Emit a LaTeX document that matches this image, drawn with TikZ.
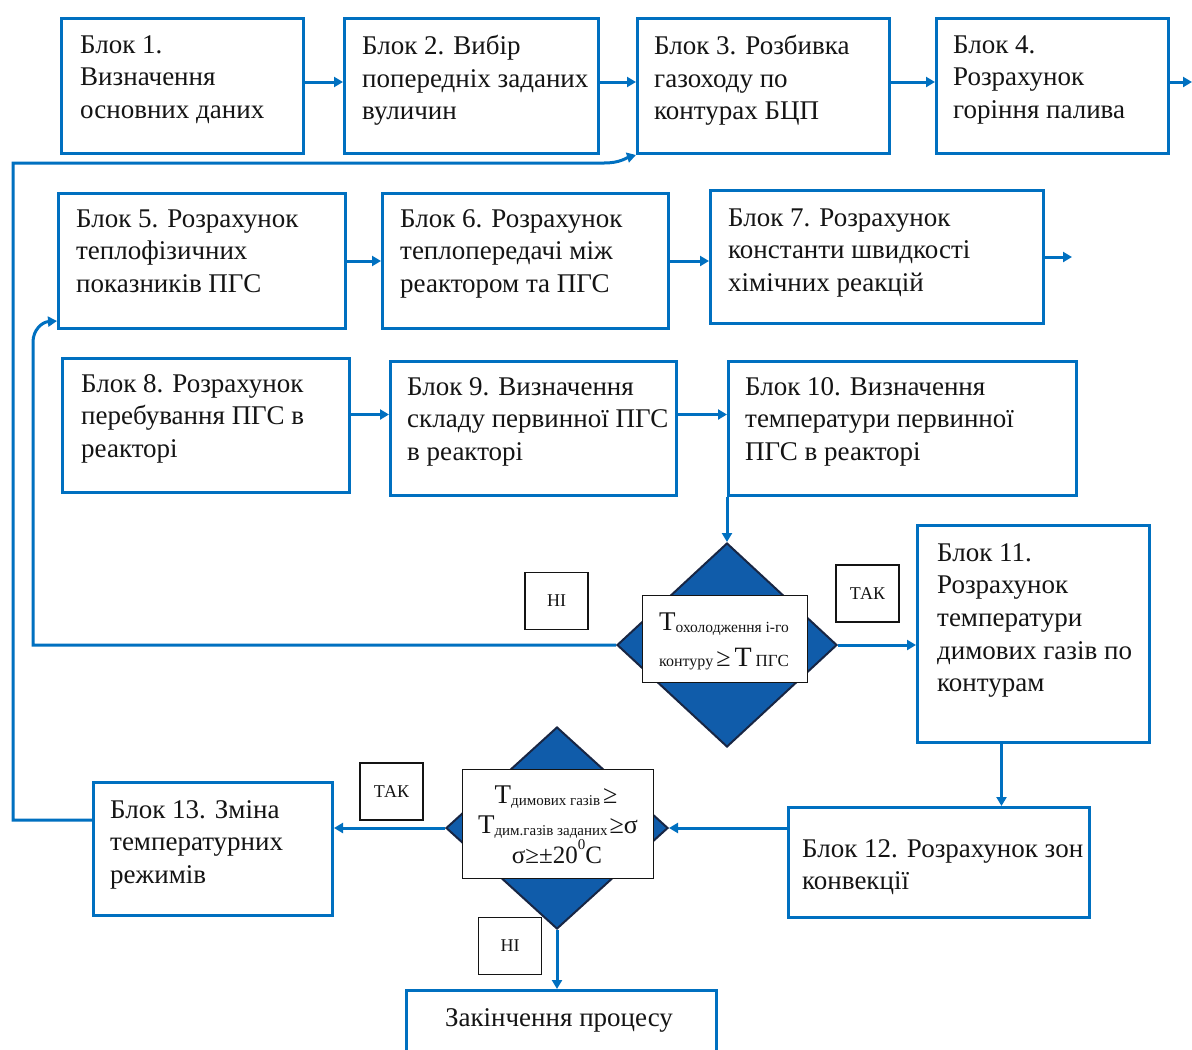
\documentclass[tikz,border=0pt]{standalone}
\usepackage{fontspec}
\setmainfont{Liberation Serif}
\usetikzlibrary{arrows.meta,shapes.geometric}
\definecolor{lblue}{RGB}{0,112,192}
\definecolor{dfill}{RGB}{16,92,170}
\definecolor{dnavy}{RGB}{24,38,68}
\definecolor{ink}{RGB}{20,20,20}
\newcommand\fs[1]{\fontsize{#1}{#1}\selectfont}
\newcommand\bfont{\fontsize{27}{32.6}\selectfont}
\tikzset{
  blk/.style={draw=lblue, line width=3pt, inner sep=0pt, anchor=north west},
  txt/.style={font=\bfont, text=ink, align=left, anchor=north west,
              inner sep=0pt, yshift=17.8pt},
  conn/.style={draw=lblue, line width=3pt, -{Triangle[length=9pt,width=10pt]}},
  dia/.style={diamond, draw=dnavy, fill=dfill, line width=2pt, inner sep=0pt},
  wbox/.style={draw=ink, fill=white, line width=1.3pt, anchor=north west, inner sep=0pt},
  lbl/.style={draw=ink, line width=1.3pt, text=ink, font=\fontsize{18}{18}\selectfont, inner sep=0pt,
              minimum width=63pt, minimum height=57pt},
  dt/.style={anchor=base, inner sep=0pt, text=ink}
}
\newcommand\mkblk[5]{\node[blk, minimum width={(#4)-(#2)}, minimum height={(#5)-(#3)}] (#1) at (#2,#3) {};}
\begin{document}
\begin{tikzpicture}[x=1pt,y=-1pt]
\useasboundingbox (0,0) rectangle (1192,1050);
\clip (0,0) rectangle (1192,1050);
\fill[white] (0,0) rectangle (1192,1050);

% row 1
\mkblk{b1}{60}{17}{302}{152}
\mkblk{b2}{343}{17}{597}{152}
\mkblk{b3}{636}{17}{888}{152}
\mkblk{b4}{935}{17}{1167}{152}
\node[txt] (t1) at (80,53) {Блок 1.\\Визначення\\основних даних};
\node[txt] (t2) at (362,53) {Блок 2. Вибір\\попередніх заданих\\вуличин};
\node[txt] (t3) at (654,53) {Блок 3. Розбивка\\газоходу по\\контурах БЦП};
\node[txt] (t4) at (953,53) {Блок 4.\\Розрахунок\\горіння палива};

% row 2
\mkblk{b5}{57}{192}{344}{327}
\mkblk{b6}{381}{192}{667}{327}
\mkblk{b7}{709}{189}{1042}{322}
\node[txt] (t5) at (76,227) {Блок 5. Розрахунок\\теплофізичних\\показників ПГС};
\node[txt] (t6) at (400,227) {Блок 6. Розрахунок\\теплопередачі між\\реактором та ПГС};
\node[txt] (t7) at (728,226) {Блок 7. Розрахунок\\константи швидкості\\хімічних реакцій};

% row 3
\mkblk{b8}{61}{357}{348}{491}
\mkblk{b9}{389}{360}{675}{494}
\mkblk{b10}{727}{360}{1075}{494}
\node[txt] (t8) at (81,392) {Блок 8. Розрахунок\\перебування ПГС в\\реакторі};
\node[txt] (t9) at (407,395) {Блок 9. Визначення\\складу первинної ПГС\\в реакторі};
\node[txt] (t10) at (745,395) {Блок 10. Визначення\\температури первинної\\ПГС в реакторі};

% block 11, 12, 13, end
\mkblk{b11}{916}{524}{1148}{741}
\node[txt] (t11) at (937,561) {Блок 11.\\Розрахунок\\температури\\димових газів по\\контурам};
\mkblk{b12}{787}{806}{1088}{916}
\node[txt] (t12) at (802,857) {Блок 12. Розрахунок зон\\конвекції};
\mkblk{b13}{92}{781}{331}{914}
\node[txt] (t13) at (110,818) {Блок 13. Зміна\\температурних\\режимів};
\mkblk{end}{405}{989}{715}{1080}
\node[dt, font=\bfont] (tend) at (559,1026) {Закінчення процесу};

% decision 1
\node[dia, minimum width=220pt, minimum height=204pt] (d1) at (727,645) {};
\node[wbox, minimum width=165pt, minimum height=87pt] (d1b) at (642,595) {};
\node[dt] (d1l1) at (724,630) {{\fs{27}T}\lower2pt\hbox{\fs{15.5}охолодження і-го}};
\node[dt] (d1l2) at (724,666) {{\fs{16}контуру}\hspace{3pt}{\fs{26}≥}\hspace{4pt}{\fs{28}T}\hspace{4pt}{\fs{17}ПГС}};

% decision 2
\node[dia, minimum width=222pt, minimum height=202pt] (d2) at (557,828) {};
\node[wbox, minimum width=191pt, minimum height=109pt] (d2b) at (462,769) {};
\node[dt] (d2l1) at (556,803) {{\fs{27}T}\lower2pt\hbox{\fs{15}димових газів}\hspace{3pt}{\fs{26}≥}};
\node[dt] (d2l2) at (558,833) {{\fs{27}T}\lower2pt\hbox{\fs{15}дим.газів заданих}\hspace{2pt}{\fs{26}≥σ}};
\node[dt] (d2l3) at (557,863) {\fs{25}σ≥±20\raisebox{0.55em}{\fs{15}0}C};

% yes/no labels
\node[lbl] (no1) at (556.5,601) {НІ};
\node[lbl] (yes1) at (867.5,593.5) {ТАК};
\node[lbl] (yes2) at (391.5,791.5) {ТАК};
\node[lbl] (no2) at (510,946) {НІ};

% connectors
\coordinate (out1) at (1192,80);
\coordinate (out2) at (1072,253);
\draw[conn] ([yshift=4pt]b1.east) -- ([yshift=4pt]b2.west);
\draw[conn] ([yshift=4pt]b2.east) -- ([yshift=4pt]b3.west);
\draw[conn] ([yshift=4pt]b3.east) -- ([yshift=4pt]b4.west);
\draw[conn] ([yshift=4pt]b4.east) -- ([yshift=4pt]b4.east -| out1);
\draw[conn] (b5.east) -- (b5.east -| b6.west);
\draw[conn] (b6.east) -- (b6.east -| b7.west);
\draw[conn] (b7.east) -- (b7.east -| out2);
\draw[conn] ([yshift=11pt]b8.east) -- ([yshift=11pt]b8.east -| b9.west);
\draw[conn] ([yshift=14pt]b9.east) -- ([yshift=14pt]b9.east -| b10.west);
\draw[conn] (b10.south west) -- (d1.north);
\draw[conn] (d1.east) -- (d1.east -| b11.west);
\draw[conn] ([xshift=-32pt]b11.south) -- ([xshift=-32pt]b11.south |- b12.north);
\draw[conn] (b12.west |- d2.east) -- (d2.east);
\draw[conn] (d2.west) -- (d2.west -| b13.east);
\draw[conn] (d2.south) -- (d2.south |- end.north);

% loop back NO -> block 5
\coordinate (lb) at (33,342);
\draw[conn] (d1.west) -| (lb) .. controls (33,330) and (42,322) .. ([yshift=9pt]b5.south west);

% loop back block 13 -> block 3
\coordinate (mb) at (13,163);
\coordinate (mc) at (604,163);
\draw[conn] ([yshift=29pt]b13.west) -| (mb) -- (mc) .. controls (620,163) and (626,158) .. (b3.south west);
\end{tikzpicture}
\end{document}
